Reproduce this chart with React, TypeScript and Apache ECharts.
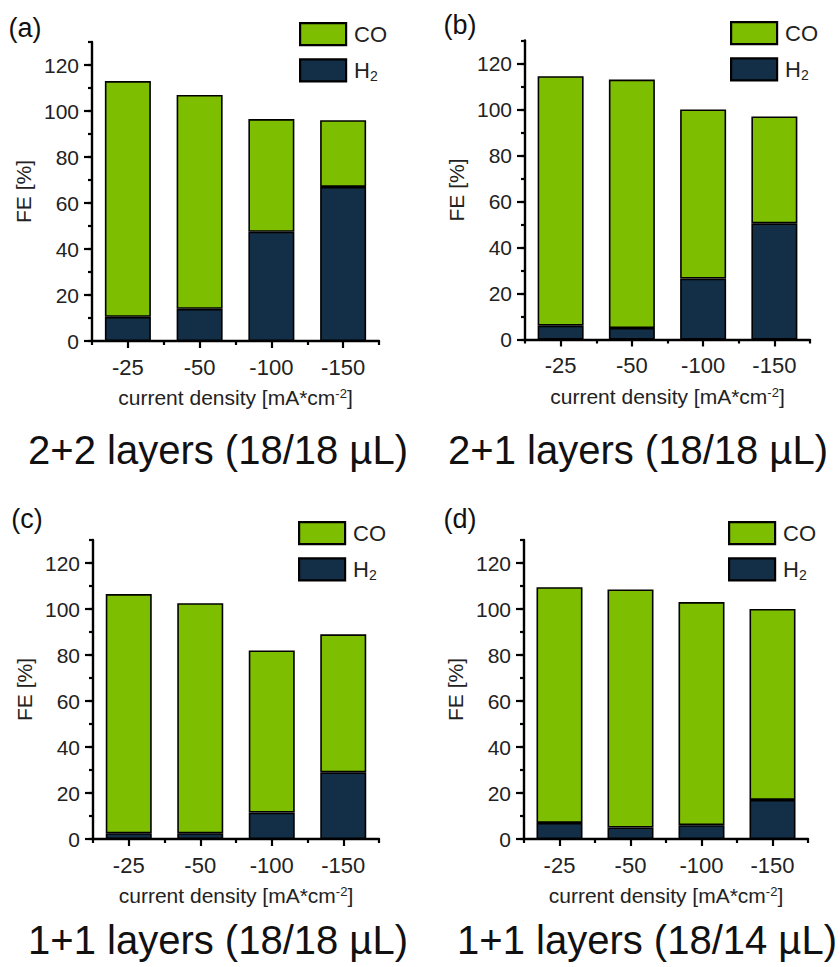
import React, { useEffect, useRef } from "react";
import * as echarts from "echarts";

const categories = ["-25", "-50", "-100", "-150"];
const h2A = [10.5, 14, 47.5, 67];
const coA = [102.5, 93, 49, 29];
const h2B = [6, 5, 26.5, 50.5];
const coB = [108.5, 108, 73.5, 46.5];
const h2C = [2.5, 2.5, 11.5, 29];
const coC = [104, 100, 70.5, 60];
const h2D = [7, 5, 6, 17];
const coD = [102.5, 103.5, 97, 83];
const yTicks = [0, 20, 40, 60, 80, 100, 120];
const yMax = 130;
const panelLabels = ["(a)", "(b)", "(c)", "(d)"];
const panelTitles = [
  "2+2 layers (18/18 µL)",
  "2+1 layers (18/18 µL)",
  "1+1 layers (18/18 µL)",
  "1+1 layers (18/14 µL)",
];
const seriesNames = ["CO", "H2"];

const FONT = "'Liberation Sans', Arial, sans-serif";
const GREEN = "#7EBE00";
const NAVY = "#132E47";

const layout = [
  { left: 92, top: 42, width: 287, height: 299, legend: [299, 22], label: [25, 28], title: [218, 450] },
  { left: 525, top: 40.5, width: 285, height: 299, legend: [730, 21], label: [460, 25], title: [638, 450] },
  { left: 93, top: 540, width: 286, height: 299, legend: [298, 521], label: [27, 519], title: [218, 940] },
  { left: 524, top: 540, width: 284, height: 299, legend: [728, 521], label: [460, 519], title: [647, 940] },
];

export default function App() {
  const ref = useRef<HTMLDivElement>(null);
  useEffect(() => {
    if (!ref.current) return;
    const chart = echarts.init(ref.current, null, { renderer: "svg" });
    const panels = [
      { h2: h2A, co: coA },
      { h2: h2B, co: coB },
      { h2: h2C, co: coC },
      { h2: h2D, co: coD },
    ];
    const grid: any[] = [];
    const xAxis: any[] = [];
    const yAxis: any[] = [];
    const series: any[] = [];
    const legend: any[] = [];
    const graphic: any[] = [];
    const tickLine = { color: "#000", width: 2.2 };
    panels.forEach((p, i) => {
      const L = layout[i];
      grid.push({ left: L.left, top: L.top, width: L.width, height: L.height, containLabel: false });
      xAxis.push({
        gridIndex: i,
        type: "category",
        data: categories,
        position: "bottom",
        axisLine: { show: true, lineStyle: { color: "#000", width: 2.4 } },
        axisTick: { show: true, alignWithLabel: true, length: 7, lineStyle: tickLine },
        axisLabel: { margin: 15, fontSize: 22, color: "#222", fontFamily: FONT },
        splitLine: { show: false },
        name: "{n|current density [mA*cm}{s|-2}{n|]}",
        nameLocation: "middle",
        nameGap: 46,
        nameTextStyle: {
          rich: {
            n: { fontSize: 21, color: "#222", fontFamily: FONT },
            s: { fontSize: 13, color: "#222", fontFamily: FONT, verticalAlign: "top", padding: [0, 0, 8, 0] },
          },
        },
      });
      xAxis.push({
        gridIndex: i,
        type: "category",
        data: categories,
        position: "bottom",
        offset: 0,
        axisLine: { show: false },
        axisTick: { show: true, length: 4, lineStyle: tickLine },
        axisLabel: { show: false },
        splitLine: { show: false },
      });
      yAxis.push({
        gridIndex: i,
        type: "value",
        min: 0,
        max: yMax,
        interval: 20,
        position: "left",
        axisLine: { show: true, lineStyle: { color: "#000", width: 2.4 } },
        axisTick: { show: true, length: 8, lineStyle: tickLine, customValues: yTicks },
        axisLabel: { margin: 13, fontSize: 21, color: "#222", fontFamily: FONT, customValues: yTicks },
        splitLine: { show: false },
        name: "FE [%]",
        nameLocation: "middle",
        nameGap: 58,
        nameTextStyle: { fontSize: 21, color: "#222", fontFamily: FONT },
      });
      yAxis.push({
        gridIndex: i,
        type: "value",
        min: 0,
        max: yMax,
        interval: 10,
        position: "left",
        offset: 0,
        axisLine: { show: false },
        axisTick: { show: true, length: 4, lineStyle: tickLine },
        axisLabel: { show: false },
        splitLine: { show: false },
      });
      series.push({
        name: "H2",
        type: "bar",
        stack: "s" + i,
        xAxisIndex: 2 * i,
        yAxisIndex: 2 * i,
        data: p.h2,
        barWidth: 46,
        itemStyle: { color: NAVY, borderColor: "#000", borderWidth: 1.6 },
      });
      series.push({
        name: "CO",
        type: "bar",
        stack: "s" + i,
        xAxisIndex: 2 * i,
        yAxisIndex: 2 * i,
        data: p.co,
        barWidth: 46,
        itemStyle: { color: GREEN, borderColor: "#000", borderWidth: 1.6 },
      });
      legend.push({
        left: L.legend[0],
        top: L.legend[1],
        orient: "vertical",
        padding: 0,
        itemWidth: 46,
        itemHeight: 22,
        itemGap: 12,
        icon: "rect",
        selectedMode: false,
        data: seriesNames,
        itemStyle: { borderColor: "#000", borderWidth: 2.2 },
        formatter: (name: string) => (name === "H2" ? "{m|H}{s|2}" : "{m|CO}"),
        textStyle: {
          padding: [0, 0, 0, 3],
          rich: {
            m: { fontSize: 22, color: "#222", fontFamily: FONT },
            s: { fontSize: 14, color: "#222", fontFamily: FONT, verticalAlign: "bottom", padding: [12, 0, 0, 0] },
          },
        },
      });
      graphic.push({
        type: "text",
        x: L.label[0],
        y: L.label[1],
        style: { text: panelLabels[i], fontSize: 27, fontFamily: FONT, fill: "#111", align: "center", verticalAlign: "middle" },
      });
      graphic.push({
        type: "text",
        x: L.title[0],
        y: L.title[1],
        style: { text: panelTitles[i], fontSize: 40, fontFamily: FONT, fill: "#111", align: "center", verticalAlign: "middle" },
      });
    });
    chart.setOption({
      animation: false,
      backgroundColor: "#fff",
      grid,
      xAxis,
      yAxis,
      series,
      legend,
      graphic,
    });
    return () => chart.dispose();
  }, []);
  return (
    <div
      ref={ref}
      style={{ position: "fixed", left: 0, top: 0, width: 840, height: 967, background: "#fff" }}
    />
  );
}
